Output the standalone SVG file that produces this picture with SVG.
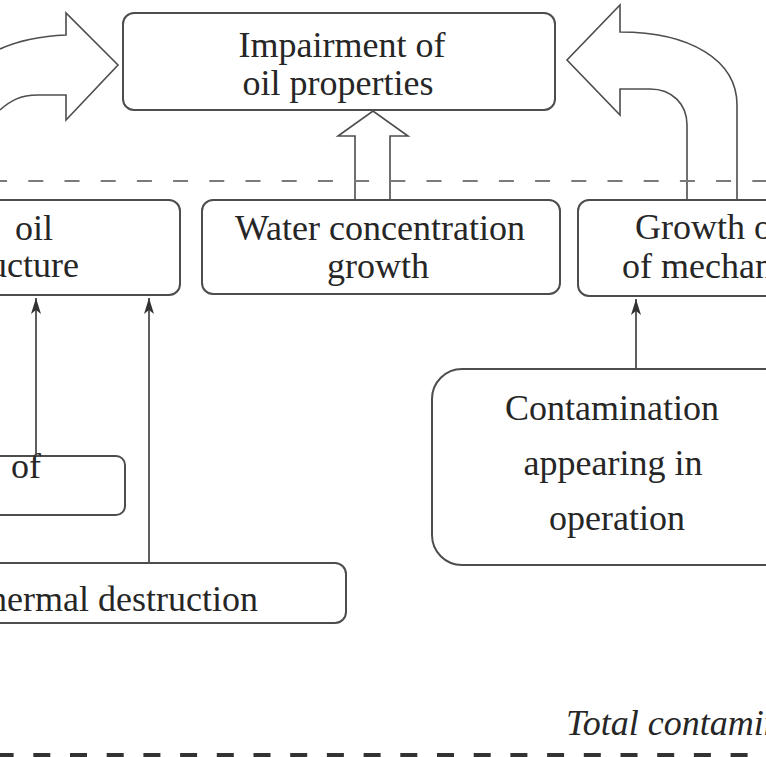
<svg xmlns="http://www.w3.org/2000/svg" width="766" height="757" viewBox="0 0 766 757">
  <style>
    .box { fill: #ffffff; stroke: #4d4d4d; stroke-width: 2; }
    .blk { fill: #ffffff; stroke: #4d4d4d; stroke-width: 1.6; stroke-linejoin: miter; }
    .t { font-family: "Liberation Serif", "Times New Roman", serif; font-size: 36px; fill: #262626; }
    .c { text-anchor: middle; }
    .it { font-style: italic; font-size: 36px; }
    .conn { stroke: #4d4d4d; stroke-width: 1.8; fill: none; }
  </style>
  <defs>
    <marker id="ah" viewBox="0 0 16 12" refX="16" refY="6" markerWidth="16" markerHeight="12" markerUnits="userSpaceOnUse" orient="auto">
      <path d="M0,1 L16,6 L0,11 L4,6 z" fill="#333333"/>
    </marker>
  </defs>
  <rect width="766" height="757" fill="#ffffff"/>

  <g id="node-impairment">
    <rect class="box" x="123" y="13" width="432" height="97" rx="11"/>
    <text class="t c" x="342" y="57">Impairment of</text>
    <text class="t c" x="338" y="95">oil properties</text>
  </g>

  <g id="node-oil-structure">
    <rect class="box" x="-100" y="200" width="280" height="95" rx="11"/>
    <text class="t" x="15" y="240">oil</text>
    <text class="t" x="-11" y="277">ucture</text>
  </g>

  <g id="node-water">
    <rect class="box" x="202" y="200" width="358" height="94" rx="11"/>
    <text class="t c" x="380" y="240">Water concentration</text>
    <text class="t c" x="378" y="278">growth</text>
  </g>

  <g id="node-growth">
    <rect class="box" x="578" y="200" width="240" height="96" rx="11"/>
    <text class="t" x="635" y="239">Growth of</text>
    <text class="t" x="622" y="278">of mechanical</text>
  </g>

  <g id="node-of">
    <rect class="box" x="-100" y="456" width="225" height="59" rx="9"/>
    <text class="t" x="11" y="478">of</text>
  </g>

  <g id="node-thermal">
    <rect class="box" x="-100" y="563" width="446" height="60" rx="11"/>
    <text class="t" x="-11" y="611">hermal destruction</text>
  </g>

  <g id="node-contamination">
    <rect class="box" x="432" y="369" width="380" height="196" rx="30"/>
    <text class="t c" x="612" y="420">Contamination</text>
    <text class="t c" x="613" y="475">appearing in</text>
    <text class="t c" x="617" y="530">operation</text>
  </g>

  <g id="connectors">
    <path class="blk" d="M0,49 C20,40 40,36 66,35 L66,13 L118,65 L66,120 L66,95 L38,95 C20,95 10,101 0,110"/>
    <path class="blk" d="M355,199 L355,136 L338,136 L373,111 L408,136 L390,136 L390,199"/>
    <path class="blk" d="M687,199 L687,125 C687,104 672,89 650,89 L620,89 L620,115 L567,60 L620,5 L620,32 C690,32 737,60 737,105 L737,199"/>
    <line class="conn" x1="36" y1="456" x2="36" y2="298" marker-end="url(#ah)"/>
    <line class="conn" x1="149" y1="563" x2="149" y2="298" marker-end="url(#ah)"/>
    <line class="conn" x1="636" y1="369" x2="636" y2="299" marker-end="url(#ah)"/>
  </g>

  <g id="separators">
    <line x1="0" y1="181" x2="766" y2="181" stroke="#7a7a7a" stroke-width="2" stroke-dasharray="15 21.2" stroke-dashoffset="7.9"/>
    <line x1="0" y1="755" x2="766" y2="755" stroke="#333333" stroke-width="4" stroke-dasharray="17 19.7" stroke-dashoffset="3.4"/>
  </g>

  <text class="t it" x="566" y="735">Total contamination</text>
</svg>
